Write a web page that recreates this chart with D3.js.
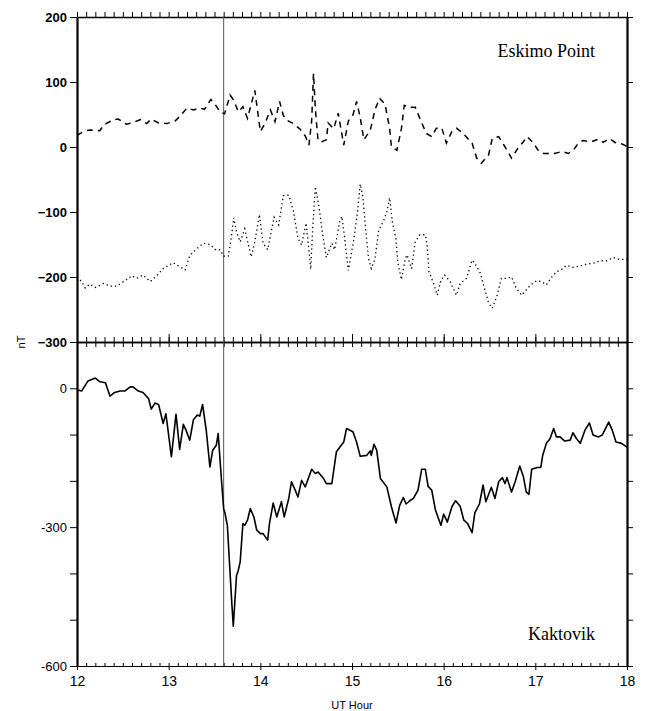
<!DOCTYPE html>
<html>
<head>
<meta charset="utf-8">
<script src="https://cdn.jsdelivr.net/npm/d3@7"></script>
<style>
  body { margin: 0; background: #fff; }
  svg text { font-family: "Liberation Sans", Arial, sans-serif; }
</style>
</head>
<body>
<div id="chart"></div>
<script>
// Eskimo Point, dashed trace [UT hour, nT]
const eskimoDashed = [
  [12.00,18],[12.09,25],[12.14,26],[12.25,25],[12.29,34],[12.40,42],[12.45,43],[12.54,35],[12.60,37],
  [12.69,42],[12.76,36],[12.81,43],[12.89,37],[12.98,36],[13.07,40],[13.12,47],[13.20,60],[13.27,57],
  [13.34,60],[13.39,58],[13.46,73],[13.51,65],[13.56,54],[13.61,51],[13.67,80],[13.71,72],[13.76,54],
  [13.81,62],[13.86,44],[13.94,87],[14.00,24],[14.05,36],[14.11,57],[14.16,39],[14.21,70],[14.25,49],
  [14.28,42],[14.36,36],[14.43,28],[14.49,17],[14.53,3],[14.56,40],[14.58,113],[14.60,60],[14.62,25],
  [14.63,10],[14.67,8],[14.72,11],[14.74,37],[14.80,28],[14.85,52],[14.91,3],[14.96,40],[15.01,49],
  [15.05,70],[15.09,45],[15.13,11],[15.20,26],[15.25,57],[15.30,75],[15.36,66],[15.41,29],[15.43,0],
  [15.49,-5],[15.54,29],[15.57,64],[15.63,61],[15.69,61],[15.74,44],[15.81,21],[15.87,16],[15.92,29],
  [15.98,29],[16.03,6],[16.09,24],[16.14,29],[16.21,21],[16.31,6],[16.36,-17],[16.41,-25],[16.49,-12],
  [16.53,13],[16.60,16],[16.67,0],[16.74,-17],[16.81,-2],[16.87,8],[16.91,16],[16.98,6],[17.03,-5],
  [17.09,-10],[17.16,-10],[17.21,-10],[17.29,-7],[17.36,-10],[17.43,-2],[17.47,6],[17.52,10],[17.61,8],
  [17.69,12],[17.74,7],[17.81,13],[17.87,7],[17.94,5],[18.00,1]
];

// Eskimo Point, dotted trace
const eskimoDotted = [
  [12.00,-200],[12.05,-207],[12.09,-217],[12.14,-211],[12.20,-216],[12.29,-210],[12.36,-214],[12.43,-214],
  [12.51,-207],[12.60,-198],[12.65,-202],[12.72,-197],[12.80,-207],[12.87,-198],[12.94,-187],[13.05,-178],
  [13.12,-184],[13.18,-189],[13.23,-167],[13.31,-156],[13.38,-148],[13.45,-150],[13.52,-159],[13.56,-158],
  [13.60,-168],[13.65,-168],[13.68,-143],[13.71,-109],[13.74,-130],[13.78,-146],[13.83,-126],[13.90,-169],
  [13.94,-146],[13.99,-104],[14.03,-148],[14.08,-158],[14.15,-108],[14.20,-120],[14.25,-75],[14.31,-74],
  [14.36,-98],[14.41,-140],[14.45,-151],[14.50,-117],[14.55,-188],[14.57,-128],[14.60,-61],[14.64,-92],
  [14.67,-125],[14.72,-170],[14.78,-148],[14.81,-158],[14.87,-112],[14.89,-107],[14.92,-140],[14.96,-190],
  [15.02,-142],[15.06,-100],[15.09,-57],[15.12,-78],[15.15,-128],[15.18,-171],[15.21,-187],[15.25,-173],
  [15.29,-129],[15.34,-115],[15.38,-100],[15.41,-78],[15.44,-115],[15.48,-142],[15.50,-178],[15.54,-204],
  [15.58,-172],[15.60,-166],[15.65,-187],[15.69,-146],[15.74,-135],[15.80,-135],[15.82,-151],[15.84,-192],
  [15.89,-210],[15.93,-228],[15.97,-205],[16.01,-197],[16.07,-207],[16.14,-228],[16.18,-210],[16.25,-202],
  [16.31,-174],[16.34,-179],[16.40,-194],[16.43,-210],[16.49,-240],[16.53,-248],[16.58,-230],[16.63,-202],
  [16.69,-202],[16.74,-200],[16.79,-217],[16.85,-228],[16.90,-220],[16.95,-212],[17.01,-206],[17.07,-207],
  [17.12,-212],[17.18,-200],[17.23,-192],[17.29,-188],[17.34,-182],[17.41,-185],[17.49,-183],[17.56,-180],
  [17.63,-179],[17.71,-175],[17.78,-175],[17.85,-170],[17.92,-173],[18.00,-173]
];

// Kaktovik, solid trace
const kaktovik = [
  [12.00,-3],[12.05,-6],[12.12,16],[12.20,22],[12.25,14],[12.31,12],[12.36,-17],[12.41,-9],[12.47,-6],
  [12.52,-6],[12.58,3],[12.61,3],[12.67,-6],[12.72,-9],[12.78,-22],[12.81,-45],[12.85,-32],[12.89,-35],
  [12.94,-76],[12.97,-55],[13.03,-148],[13.08,-56],[13.12,-132],[13.16,-78],[13.19,-91],[13.23,-112],
  [13.27,-68],[13.31,-58],[13.34,-60],[13.37,-35],[13.41,-91],[13.45,-170],[13.48,-134],[13.52,-123],
  [13.54,-98],[13.58,-209],[13.60,-260],[13.615,-270],[13.64,-296],[13.69,-468],[13.705,-514],[13.74,-405],
  [13.76,-393],[13.78,-375],[13.81,-292],[13.83,-296],[13.86,-285],[13.89,-260],[13.93,-278],[13.96,-306],
  [14.00,-314],[14.03,-314],[14.08,-328],[14.10,-292],[14.14,-248],[14.18,-278],[14.23,-245],[14.26,-278],
  [14.31,-238],[14.34,-202],[14.38,-220],[14.41,-235],[14.45,-199],[14.49,-213],[14.56,-175],[14.60,-184],
  [14.63,-181],[14.69,-195],[14.72,-206],[14.78,-206],[14.83,-137],[14.91,-116],[14.94,-87],[15.01,-94],
  [15.05,-116],[15.09,-147],[15.16,-145],[15.20,-135],[15.21,-145],[15.24,-121],[15.27,-134],[15.31,-195],
  [15.38,-213],[15.43,-256],[15.48,-291],[15.52,-253],[15.56,-236],[15.59,-250],[15.63,-243],[15.67,-238],
  [15.72,-220],[15.76,-175],[15.80,-175],[15.83,-212],[15.87,-220],[15.91,-263],[15.97,-296],[16.00,-272],
  [16.04,-289],[16.09,-256],[16.13,-243],[16.18,-255],[16.22,-285],[16.26,-292],[16.31,-312],[16.34,-269],
  [16.39,-250],[16.43,-209],[16.46,-245],[16.52,-214],[16.56,-238],[16.60,-202],[16.64,-193],[16.67,-206],
  [16.69,-193],[16.74,-224],[16.78,-202],[16.83,-168],[16.87,-191],[16.90,-224],[16.93,-229],[16.96,-175],
  [17.02,-171],[17.06,-171],[17.08,-145],[17.12,-119],[17.16,-109],[17.20,-87],[17.23,-105],[17.27,-105],
  [17.32,-114],[17.38,-112],[17.41,-96],[17.45,-109],[17.49,-119],[17.54,-91],[17.59,-75],[17.63,-101],
  [17.69,-105],[17.73,-101],[17.80,-73],[17.84,-91],[17.88,-116],[17.94,-119],[18.00,-127]
];

const hourTicks = [12, 13, 14, 15, 16, 17, 18];
const topTicks = [200, 100, 0, -100, -200, -300];
const bottomLabelTicks = [0, -300, -600];
const bottomTicks = [100, 0, -100, -200, -300, -400, -500, -600];
const markerHour = 13.6;

const width = 646, height = 711;
const left = 77, right = 627;
const topY = 17, midY = 342, botY = 666;

const svg = d3.select("#chart").append("svg")
    .attr("width", width)
    .attr("height", height);

const x = d3.scaleLinear().domain([12, 18]).range([left, right]);
const yTop = d3.scaleLinear().domain([-300, 200]).range([midY, topY]);
const yBot = d3.scaleLinear().domain([-600, 100]).range([botY, midY]);

// minor tick positions every 0.1 hour
const minorHours = d3.range(0, 61).map(i => 12 + i / 10);

function styleAxis(g, w) {
    g.select(".domain").attr("stroke", "#000").attr("stroke-width", w);
    g.selectAll(".tick line").attr("stroke", "#000").attr("stroke-width", 1);
}

// top edge
svg.append("g")
    .attr("transform", `translate(0,${topY})`)
    .call(d3.axisTop(x).tickValues(minorHours).tickSize(5).tickSizeOuter(0).tickFormat(""))
    .call(g => styleAxis(g, 1.5));

// middle edge, ticks both sides
svg.append("g")
    .attr("transform", `translate(0,${midY})`)
    .call(d3.axisTop(x).tickValues(minorHours).tickSize(5).tickSizeOuter(0).tickFormat(""))
    .call(g => styleAxis(g, 1.5));
svg.append("g")
    .attr("transform", `translate(0,${midY})`)
    .call(d3.axisBottom(x).tickValues(minorHours).tickSize(5).tickSizeOuter(0).tickFormat(""))
    .call(g => styleAxis(g, 1.5));
svg.append("g")
    .attr("transform", `translate(0,${midY})`)
    .call(d3.axisTop(x).tickValues(hourTicks).tickSize(8).tickSizeOuter(0).tickFormat(""))
    .call(g => g.select(".domain").remove());

// bottom edge
svg.append("g")
    .attr("transform", `translate(0,${botY})`)
    .call(d3.axisTop(x).tickValues(minorHours).tickSize(3).tickSizeOuter(0).tickFormat(""))
    .call(g => styleAxis(g, 1));
svg.append("g")
    .attr("transform", `translate(0,${botY})`)
    .call(d3.axisBottom(x).tickValues(hourTicks).tickSize(4).tickSizeOuter(0).tickPadding(6).tickFormat(d3.format("d")))
    .call(g => styleAxis(g, 1))
    .call(g => g.selectAll("text").attr("font-size", 14).attr("fill", "#000")
        .attr("font-family", "'Liberation Sans', Arial, sans-serif"));

// left axes
svg.append("g")
    .attr("transform", `translate(${left},0)`)
    .call(d3.axisLeft(yTop).tickValues(topTicks).tickSize(7).tickSizeOuter(0).tickPadding(3))
    .call(g => styleAxis(g, 2.2))
    .call(g => g.selectAll("text").attr("font-size", 13).attr("font-weight", "bold").attr("fill", "#000")
        .attr("font-family", "'Liberation Sans', Arial, sans-serif"));
svg.append("g")
    .attr("transform", `translate(${left},0)`)
    .call(d3.axisLeft(yBot).tickValues(bottomTicks).tickSize(7).tickSizeOuter(0).tickPadding(3)
        .tickFormat(d => bottomLabelTicks.includes(d) ? d : ""))
    .call(g => styleAxis(g, 2.2))
    .call(g => g.selectAll("text").attr("font-size", 13).attr("fill", "#000")
        .attr("font-family", "'Liberation Sans', Arial, sans-serif"));

// right axes
svg.append("g")
    .attr("transform", `translate(${right},0)`)
    .call(d3.axisRight(yTop).tickValues(topTicks).tickSize(6).tickSizeOuter(0).tickFormat(""))
    .call(g => styleAxis(g, 2.2));
svg.append("g")
    .attr("transform", `translate(${right},0)`)
    .call(d3.axisRight(yBot).tickValues(bottomTicks).tickSize(6).tickSizeOuter(0).tickFormat(""))
    .call(g => styleAxis(g, 2.2));

// marker line
svg.append("line")
    .attr("x1", x(markerHour)).attr("x2", x(markerHour))
    .attr("y1", topY).attr("y2", botY)
    .attr("stroke", "#555").attr("stroke-width", 1);

const lineTop = d3.line().x(d => x(d[0])).y(d => yTop(d[1]));
const lineBot = d3.line().x(d => x(d[0])).y(d => yBot(d[1]));

svg.append("path")
    .datum(eskimoDashed)
    .attr("d", lineTop)
    .attr("fill", "none")
    .attr("stroke", "#000")
    .attr("stroke-width", 1.5)
    .attr("stroke-dasharray", "6,5");

svg.append("path")
    .datum(eskimoDotted)
    .attr("d", lineTop)
    .attr("fill", "none")
    .attr("stroke", "#000")
    .attr("stroke-width", 1.3)
    .attr("stroke-dasharray", "1.3,3");

svg.append("path")
    .datum(kaktovik)
    .attr("d", lineBot)
    .attr("fill", "none")
    .attr("stroke", "#000")
    .attr("stroke-width", 1.6)
    .attr("stroke-linejoin", "round");

// station labels
svg.append("text")
    .attr("x", 595).attr("y", 57)
    .attr("text-anchor", "end")
    .attr("font-size", 18)
    .style("font-family", "'Liberation Serif', 'Times New Roman', serif")
    .text("Eskimo Point");

svg.append("text")
    .attr("x", 595).attr("y", 640)
    .attr("text-anchor", "end")
    .attr("font-size", 18)
    .style("font-family", "'Liberation Serif', 'Times New Roman', serif")
    .text("Kaktovik");

// axis titles
svg.append("text")
    .attr("transform", `translate(25,${midY}) rotate(-90)`)
    .attr("text-anchor", "middle")
    .attr("font-size", 11)
    .text("nT");

svg.append("text")
    .attr("x", 352).attr("y", 709)
    .attr("text-anchor", "middle")
    .attr("font-size", 11)
    .text("UT Hour");
</script>
</body>
</html>
